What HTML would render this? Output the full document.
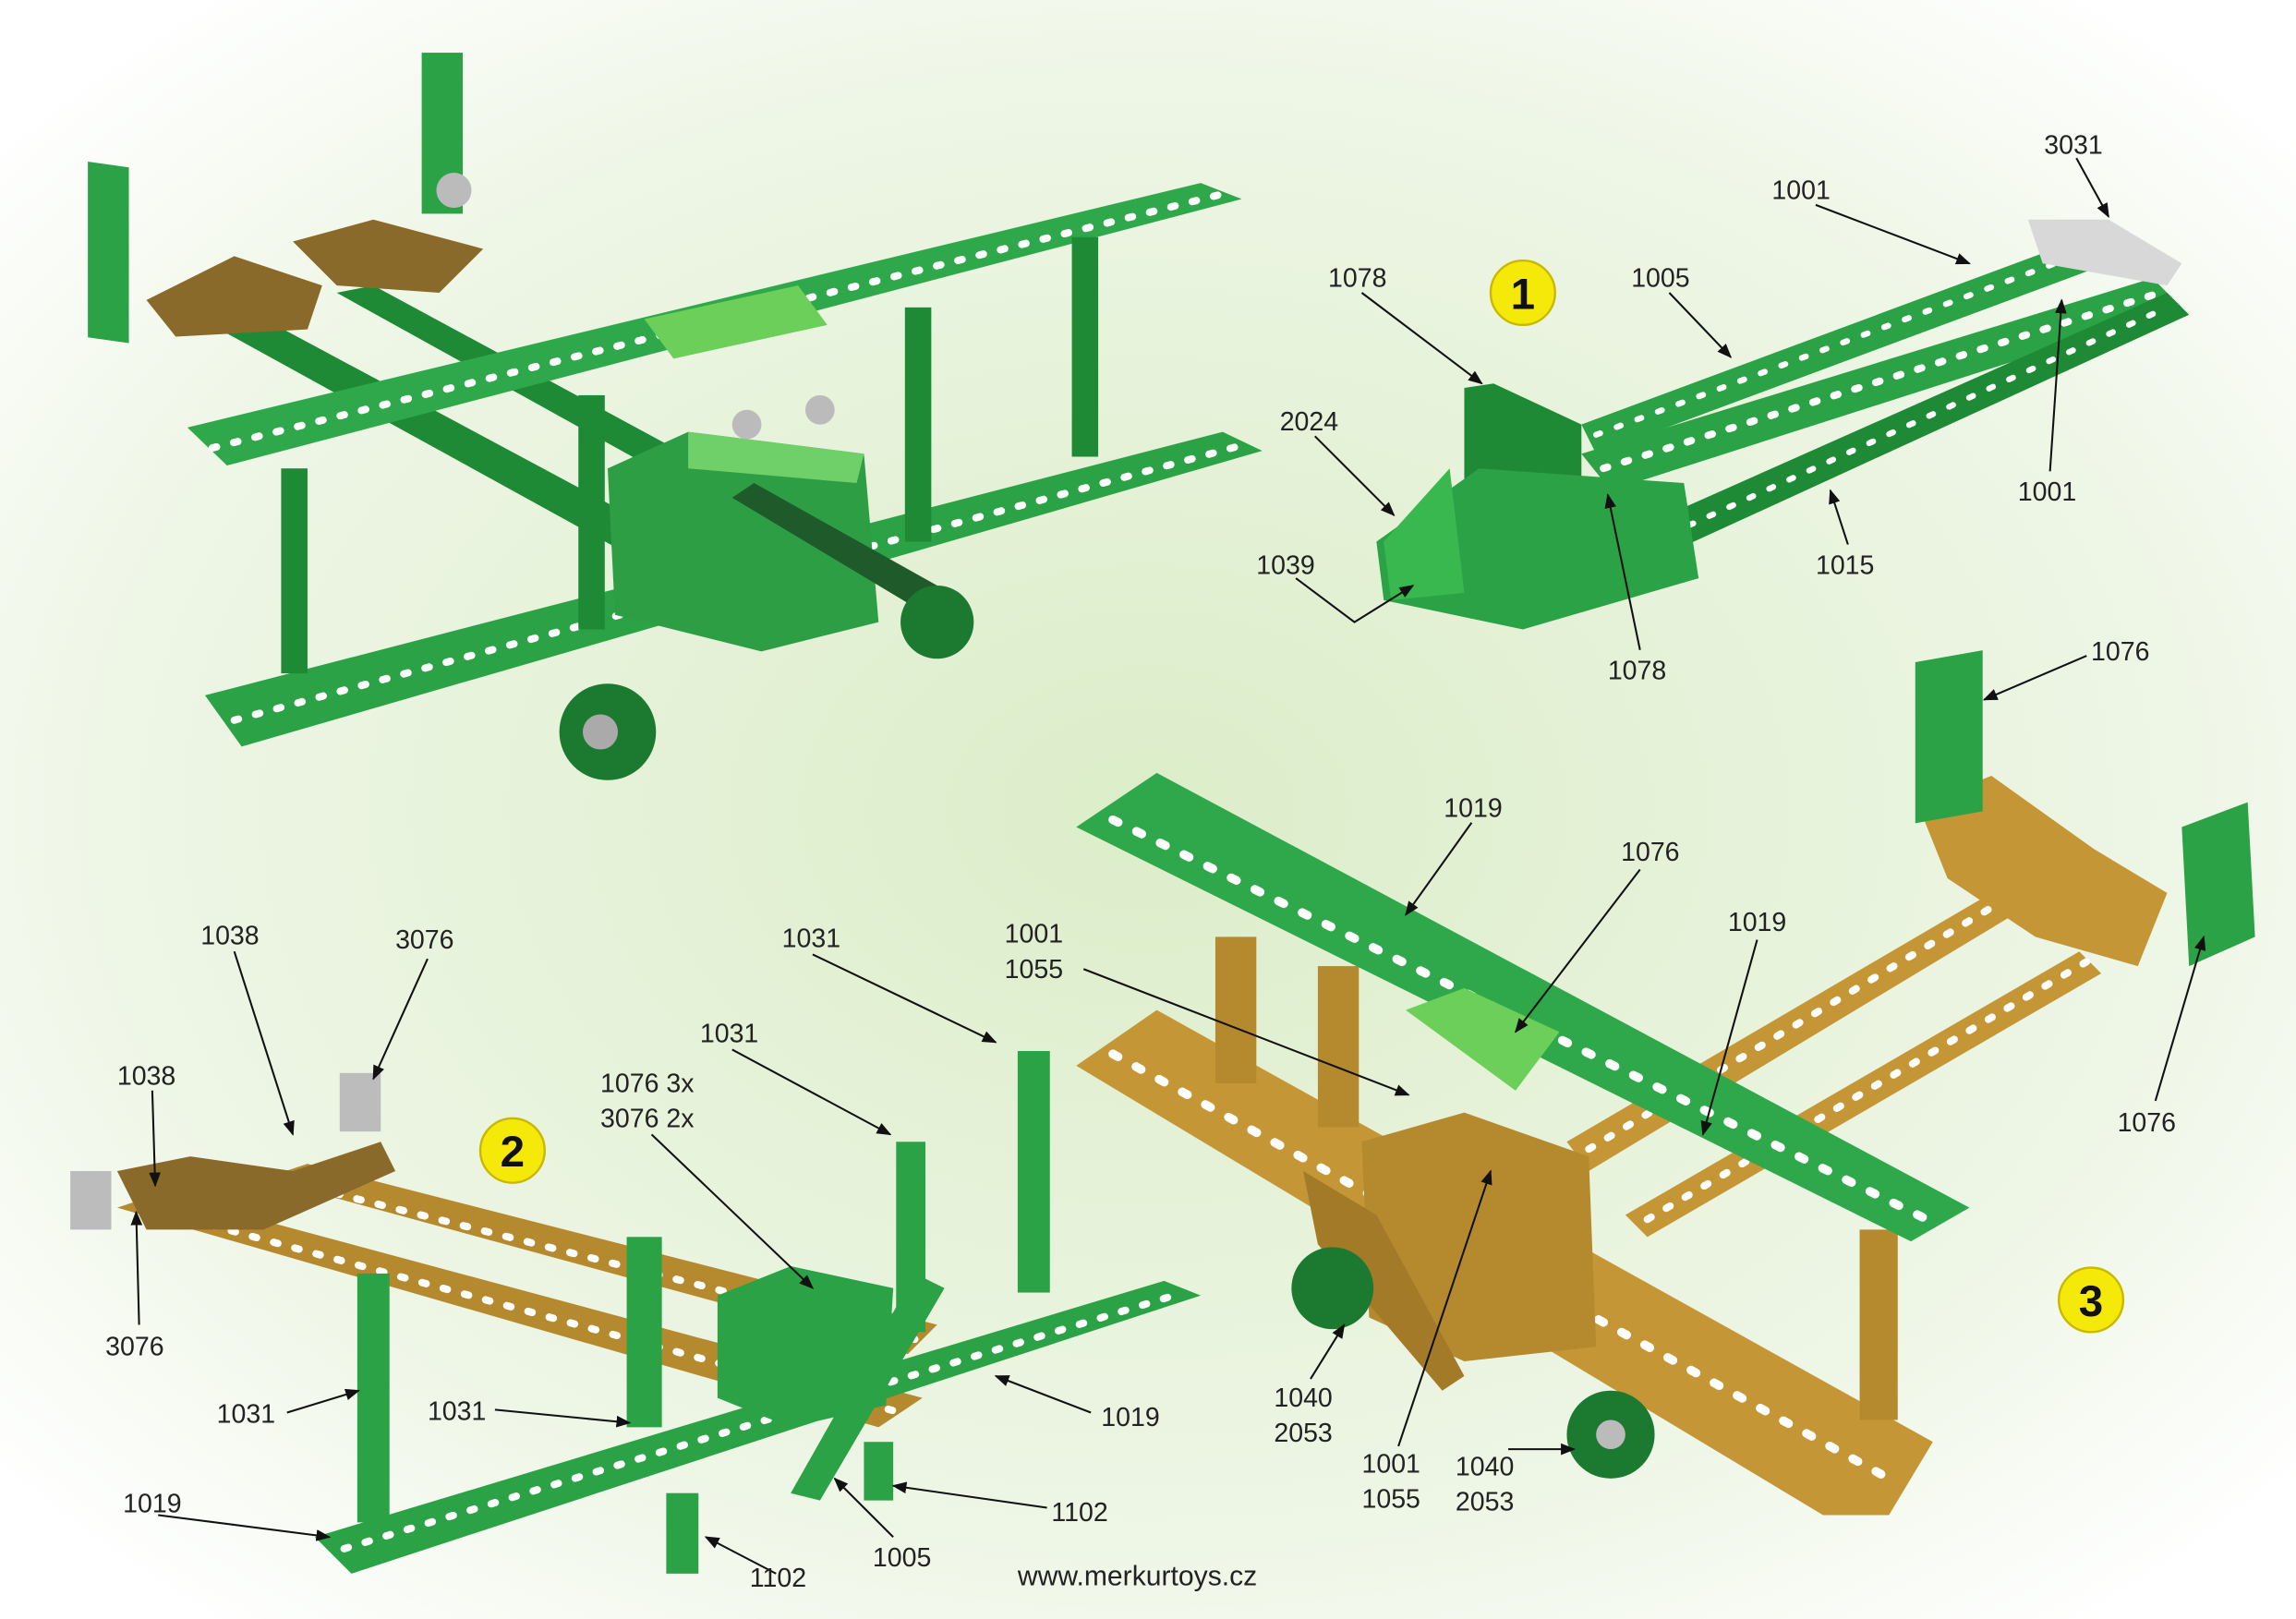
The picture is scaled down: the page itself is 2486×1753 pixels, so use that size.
<!DOCTYPE html>
<html><head><meta charset="utf-8"><style>
html,body{margin:0;padding:0;width:2486px;height:1753px;overflow:hidden;background:#fff}
svg{display:block}
text{font-family:"Liberation Sans",Arial,sans-serif;font-size:18px;fill:#222}
.h{stroke:#fff;stroke-linecap:round;fill:none}
</style></head><body>
<svg width="2486" height="1753" viewBox="0 0 1568 1106" preserveAspectRatio="none">
<defs>
<radialGradient id="bg" cx="50%" cy="50%" r="65%">
<stop offset="0" stop-color="#dcedc9"/><stop offset="0.7" stop-color="#eef6e6"/><stop offset="1" stop-color="#ffffff"/>
</radialGradient>
<marker id="a" markerWidth="10" markerHeight="8" refX="9" refY="4" orient="auto" markerUnits="userSpaceOnUse"><path d="M0,0 L10,4 L0,8 z" fill="#111"/></marker>
</defs>
<rect width="1568" height="1106" fill="url(#bg)"/>

<!-- ===== Top-left complete plane ===== -->
<g>
<!-- fuselage booms -->
<polygon points="150,225 175,215 520,400 495,415" fill="#1f8a35"/>
<polygon points="230,200 255,195 560,360 540,372" fill="#1f8a35"/>
<!-- lower wing -->
<polygon points="140,475 835,295 862,308 165,510" fill="#2aa245"/>
<line x1="160" y1="492" x2="845" y2="305" class="h" stroke-width="5" stroke-dasharray="3,12"/>
<!-- top wing -->
<polygon points="128,292 820,125 848,136 155,318" fill="#2ea84a"/>
<line x1="145" y1="306" x2="833" y2="133" class="h" stroke-width="5" stroke-dasharray="3,12"/>
<polygon points="440,218 545,195 565,222 460,245" fill="#6ccf5a"/>
<!-- struts -->
<rect x="192" y="320" width="18" height="140" fill="#1f8a35"/>
<rect x="395" y="270" width="18" height="160" fill="#1f8a35"/>
<rect x="618" y="210" width="18" height="160" fill="#1f8a35"/>
<rect x="732" y="162" width="18" height="150" fill="#1f8a35"/>
<!-- body -->
<polygon points="415,320 470,295 590,310 600,425 520,445 420,420" fill="#2e9e45"/>
<polygon points="470,295 590,310 585,330 470,320" fill="#6fd06a"/>
<polygon points="500,340 515,330 640,400 625,415" fill="#1e5a2a"/>
<circle cx="640" cy="425" r="25" fill="#1c7a30"/>
<circle cx="415" cy="500" r="33" fill="#1c7a30"/><circle cx="410" cy="500" r="12" fill="#aaa"/>
<!-- tail -->
<polygon points="100,205 160,175 220,195 210,225 120,230" fill="#8a6a2a"/>
<polygon points="200,165 255,150 330,170 300,200 230,195" fill="#8a6a2a"/>
<rect x="60" y="102" width="28" height="120" fill="#2aa245" transform="skewY(8)"/>
<rect x="288" y="36" width="28" height="110" fill="#2aa245"/>
<circle cx="310" cy="130" r="12" fill="#bbb"/><circle cx="510" cy="290" r="10" fill="#bbb"/><circle cx="560" cy="280" r="10" fill="#bbb"/>
</g>

<!-- ===== Section 1 ===== -->
<g>
<polygon points="1080,310 1470,190 1490,210 1100,335" fill="#2aa245"/>
<line x1="1095" y1="320" x2="1475" y2="200" class="h" stroke-width="5" stroke-dasharray="3,12"/>
<polygon points="1080,290 1430,160 1445,178 1090,310" fill="#2aa245"/>
<line x1="1090" y1="297" x2="1430" y2="170" class="h" stroke-width="4" stroke-dasharray="3,12"/>
<polygon points="1120,360 1480,200 1495,215 1135,380" fill="#1f8a35"/>
<line x1="1140" y1="365" x2="1480" y2="210" class="h" stroke-width="4" stroke-dasharray="3,12"/>
<polygon points="1000,265 1020,262 1080,290 1080,380 1000,370" fill="#1f8a35"/>
<polygon points="940,370 1010,320 1150,330 1160,395 1040,430 945,410" fill="#2aa245"/>
<polygon points="945,370 990,320 1000,405 950,410" fill="#3ab850"/>
<polygon points="1385,150 1440,150 1490,180 1480,195 1395,180" fill="#d8d8d8"/>
<circle cx="1040" cy="200" r="22" fill="#f5e90a" stroke="#c8b800" stroke-width="1.5"/>
<text x="1040" y="211" text-anchor="middle" style="font-size:30px;font-weight:bold;fill:#111">1</text>
</g>

<!-- ===== Section 2 ===== -->
<g>
<polygon points="80,825 110,815 630,955 600,975" fill="#b5892e"/>
<line x1="100" y1="825" x2="615" y2="965" class="h" stroke-width="5" stroke-dasharray="3,12"/>
<polygon points="180,805 210,795 640,905 620,925" fill="#b5892e"/>
<line x1="200" y1="808" x2="625" y2="915" class="h" stroke-width="5" stroke-dasharray="3,12"/>
<polygon points="215,1050 795,875 820,885 240,1075" fill="#2aa245"/>
<line x1="235" y1="1058" x2="805" y2="884" class="h" stroke-width="5" stroke-dasharray="3,12"/>
<polygon points="80,800 130,790 200,800 260,780 270,800 180,840 100,840" fill="#8a6a2a"/>
<rect x="48" y="800" width="28" height="40" fill="#bcbcbc"/>
<rect x="232" y="733" width="28" height="40" fill="#bcbcbc"/>
<rect x="244" y="870" width="22" height="170" fill="#2aa245"/>
<rect x="428" y="845" width="24" height="130" fill="#2aa245"/>
<rect x="612" y="780" width="20" height="130" fill="#2aa245"/>
<rect x="695" y="718" width="22" height="165" fill="#2aa245"/>
<polygon points="490,885 540,865 610,880 605,960 540,975 490,955" fill="#2aa245"/>
<polygon points="540,1020 625,870 645,880 560,1025" fill="#2aa245"/>
<rect x="455" y="1020" width="22" height="55" fill="#2aa245"/>
<rect x="590" y="985" width="20" height="40" fill="#2aa245"/>
<circle cx="350" cy="786" r="22" fill="#f5e90a" stroke="#c8b800" stroke-width="1.5"/>
<text x="350" y="797" text-anchor="middle" style="font-size:30px;font-weight:bold;fill:#111">2</text>
</g>

<!-- ===== Section 3 ===== -->
<g>
<!-- gold booms -->
<polygon points="1070,780 1360,610 1375,625 1085,800" fill="#c49635"/>
<line x1="1085" y1="785" x2="1365" y2="617" class="h" stroke-width="5" stroke-dasharray="3,12"/>
<polygon points="1110,830 1420,650 1435,665 1125,845" fill="#c49635"/>
<line x1="1125" y1="833" x2="1425" y2="657" class="h" stroke-width="5" stroke-dasharray="3,12"/>
<!-- gold lower wing -->
<polygon points="735,728 790,690 1320,985 1290,1035 1245,1035" fill="#c49635"/>
<line x1="760" y1="720" x2="1290" y2="1010" class="h" stroke-width="6" stroke-dasharray="4,14"/>
<!-- struts -->
<rect x="830" y="640" width="28" height="100" fill="#b5892e"/>
<rect x="900" y="660" width="28" height="110" fill="#b5892e"/>
<rect x="1270" y="840" width="26" height="130" fill="#b5892e"/>
<!-- body -->
<polygon points="930,780 1000,760 1085,790 1090,920 1000,930 935,900" fill="#b5892e"/>
<polygon points="890,800 940,830 1000,940 985,950 900,850" fill="#a27a28"/>
<circle cx="910" cy="880" r="28" fill="#1c7a30"/><circle cx="1100" cy="980" r="30" fill="#1c7a30"/><circle cx="1100" cy="980" r="10" fill="#bbb"/>
<!-- green top wing -->
<polygon points="735,565 790,528 1345,825 1305,848" fill="#2ea84a"/>
<line x1="760" y1="560" x2="1320" y2="835" class="h" stroke-width="6" stroke-dasharray="4,14"/>
<polygon points="960,690 1000,675 1065,705 1035,745" fill="#6ccf5a"/>
<!-- tail -->
<polygon points="1310,550 1360,530 1430,580 1480,610 1460,660 1390,640 1330,600" fill="#c49635"/>
<rect x="1308" y="448" width="46" height="110" fill="#2aa245" transform="skewY(-10) translate(0,235)"/>
<polygon points="1490,565 1535,548 1540,640 1495,660" fill="#2aa245"/>
<circle cx="1428" cy="888" r="22" fill="#f5e90a" stroke="#c8b800" stroke-width="1.5"/>
<text x="1428" y="899" text-anchor="middle" style="font-size:30px;font-weight:bold;fill:#111">3</text>
</g>

<!-- ===== Leader lines ===== -->
<g stroke="#111" stroke-width="1.3" fill="none" marker-end="url(#a)">
<!-- section 1 -->
<line x1="930" y1="200" x2="1012" y2="262"/>
<line x1="1140" y1="200" x2="1182" y2="244"/>
<line x1="1240" y1="140" x2="1345" y2="180"/>
<line x1="1418" y1="108" x2="1440" y2="148"/>
<line x1="1400" y1="322" x2="1408" y2="205"/>
<line x1="1262" y1="372" x2="1250" y2="335"/>
<line x1="1120" y1="444" x2="1098" y2="338"/>
<line x1="898" y1="298" x2="952" y2="352"/>
<polyline points="885,395 925,425 965,400"/>
<!-- section 2 -->
<line x1="160" y1="650" x2="200" y2="775"/>
<line x1="292" y1="655" x2="255" y2="737"/>
<line x1="104" y1="745" x2="106" y2="810"/>
<line x1="95" y1="905" x2="93" y2="828"/>
<line x1="555" y1="652" x2="680" y2="712"/>
<line x1="500" y1="717" x2="608" y2="775"/>
<line x1="445" y1="775" x2="555" y2="880"/>
<line x1="196" y1="965" x2="245" y2="950"/>
<line x1="338" y1="963" x2="430" y2="972"/>
<line x1="745" y1="965" x2="680" y2="940"/>
<line x1="108" y1="1035" x2="225" y2="1050"/>
<line x1="530" y1="1075" x2="482" y2="1050"/>
<line x1="610" y1="1050" x2="570" y2="1010"/>
<line x1="715" y1="1030" x2="610" y2="1015"/>
<!-- section 3 -->
<line x1="1005" y1="562" x2="960" y2="625"/>
<line x1="1120" y1="594" x2="1035" y2="705"/>
<line x1="1200" y1="642" x2="1163" y2="775"/>
<line x1="740" y1="662" x2="962" y2="748"/>
<line x1="1425" y1="448" x2="1355" y2="478"/>
<line x1="1472" y1="752" x2="1505" y2="640"/>
<line x1="895" y1="942" x2="918" y2="905"/>
<line x1="955" y1="988" x2="1018" y2="800"/>
<line x1="1030" y1="990" x2="1075" y2="990"/>
</g>

<!-- ===== Labels ===== -->
<g>
<text x="907" y="196">1078</text>
<text x="1114" y="196">1005</text>
<text x="1210" y="136">1001</text>
<text x="1396" y="105">3031</text>
<text x="1378" y="342">1001</text>
<text x="1240" y="392">1015</text>
<text x="1098" y="464">1078</text>
<text x="874" y="294">2024</text>
<text x="858" y="392">1039</text>

<text x="137" y="645">1038</text>
<text x="270" y="648">3076</text>
<text x="80" y="741">1038</text>
<text x="72" y="926">3076</text>
<text x="534" y="647">1031</text>
<text x="478" y="712">1031</text>
<text x="410" y="746">1076 3x</text>
<text x="410" y="770">3076 2x</text>
<text x="148" y="972">1031</text>
<text x="292" y="970">1031</text>
<text x="752" y="974">1019</text>
<text x="84" y="1033">1019</text>
<text x="512" y="1084">1102</text>
<text x="596" y="1070">1005</text>
<text x="718" y="1039">1102</text>

<text x="986" y="558">1019</text>
<text x="1107" y="588">1076</text>
<text x="1180" y="636">1019</text>
<text x="686" y="644">1001</text>
<text x="686" y="668">1055</text>
<text x="1428" y="451">1076</text>
<text x="1446" y="773">1076</text>
<text x="870" y="961">1040</text>
<text x="870" y="985">2053</text>
<text x="930" y="1006">1001</text>
<text x="930" y="1030">1055</text>
<text x="994" y="1008">1040</text>
<text x="994" y="1032">2053</text>
<text x="695" y="1083" style="font-size:19px">www.merkurtoys.cz</text>
</g>
</svg>
</body></html>
